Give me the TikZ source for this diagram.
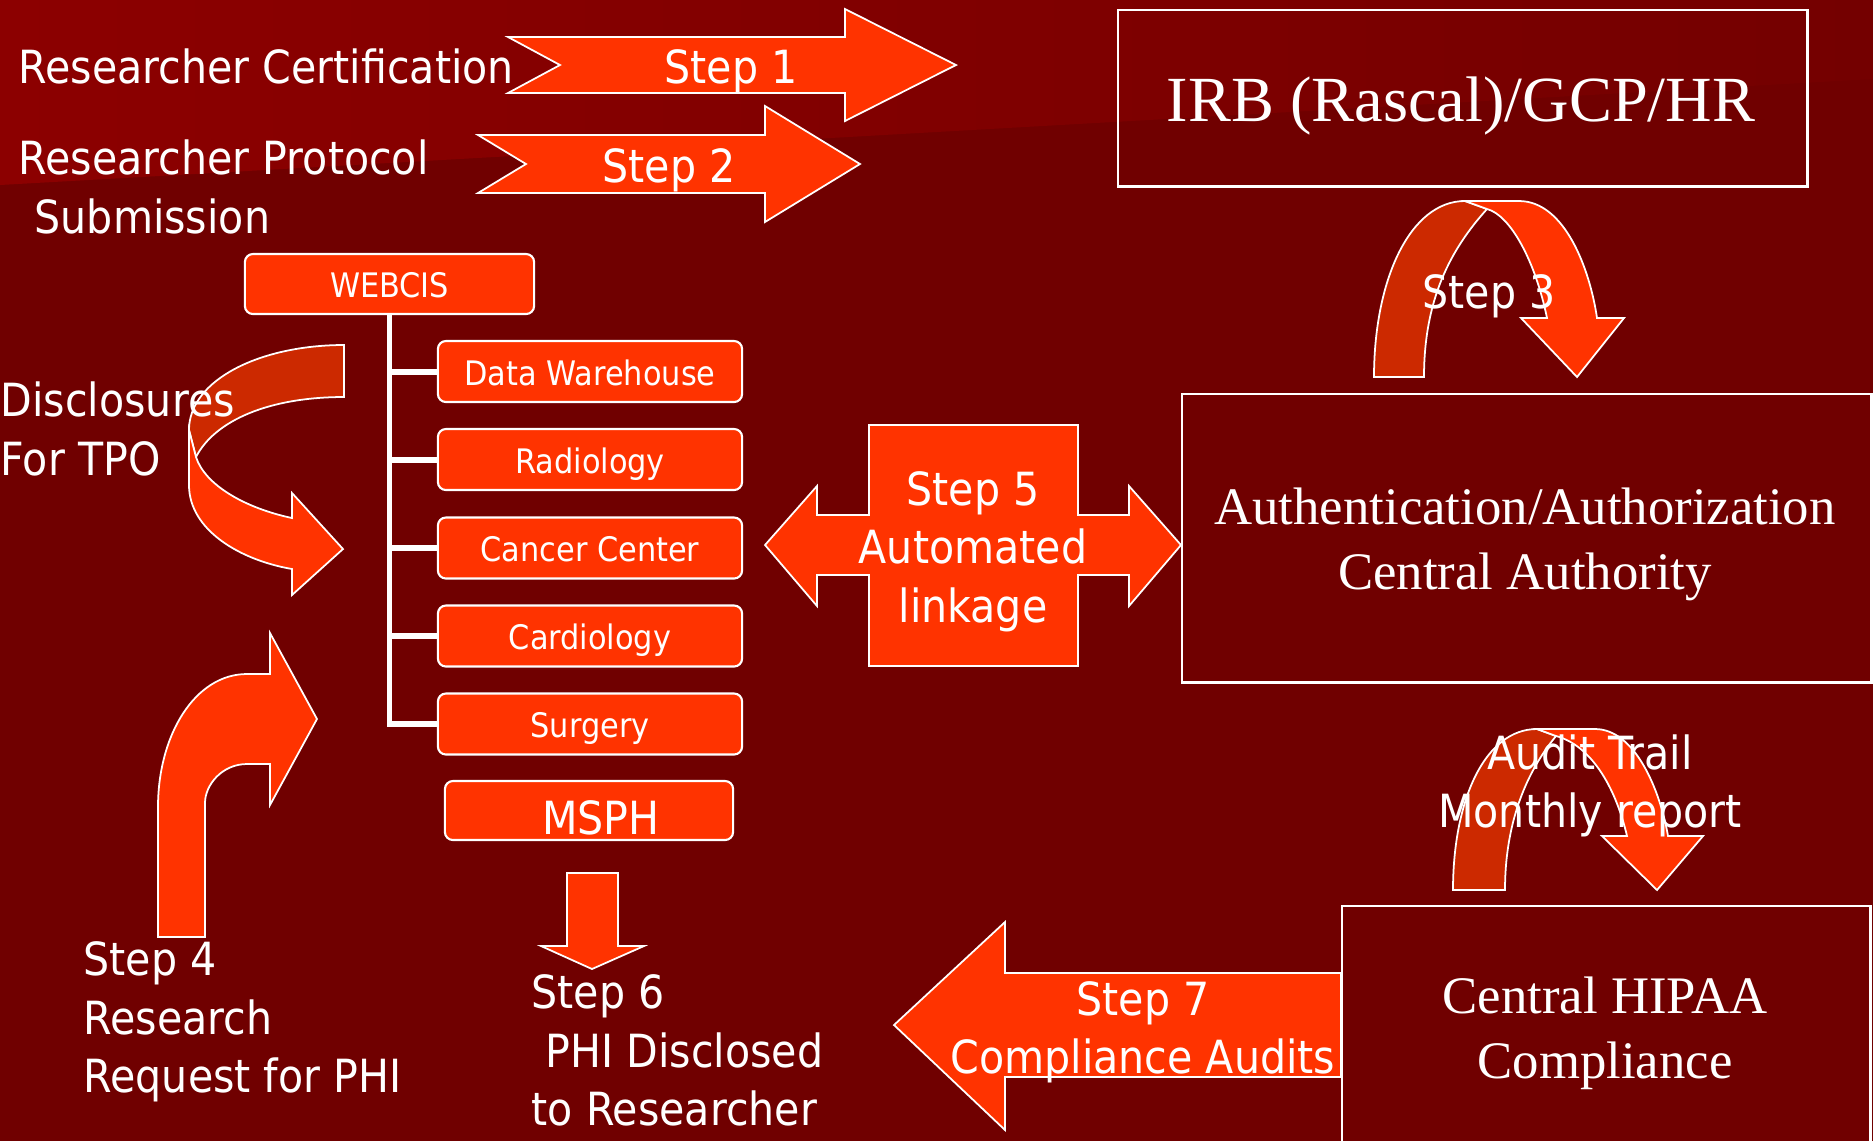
\documentclass[tikz,border=0pt]{standalone}
\usepackage{fontspec}
\usepackage{tikz}
\newfontfamily\tah{DejaVu Sans}[FakeStretch=0.9]
\newfontfamily\tms{Liberation Serif}
\definecolor{slidebg}{RGB}{112,0,0}
\definecolor{slidetop}{RGB}{140,0,0}
\definecolor{slidetopr}{RGB}{116,0,0}
\definecolor{steporange}{RGB}{255,51,0}
\definecolor{stepback}{RGB}{204,41,0}
\tikzset{
  frontpart/.style={fill=steporange, draw=white, line width=0.5pt},
  backpart/.style={fill=stepback, draw=white, line width=0.5pt},
  lbl/.style={text=white, inner sep=0pt, font=\tah\fontsize{13}{16.5}\selectfont},
  seriflbl/.style={text=white, inner sep=0pt, align=center, font=\tms\fontsize{15}{18.3}\selectfont},
  frame/.style={draw=white, line width=0.7pt, inner sep=0pt},
  dept/.style={draw=white, fill=steporange, line width=0.6pt, rounded corners=0.08cm,
    minimum width=3.04cm, minimum height=0.61cm, inner sep=0pt, text=white,
    text height=0.27cm, text depth=0cm, font=\tah\fontsize{9.6}{11}\selectfont},
  trunk/.style={draw=white, line width=1.7pt},
}
\begin{document}
\begin{tikzpicture}[x=0.01cm,y=-0.01cm]
\useasboundingbox (0,0) rectangle (1873,1141);
\fill[slidebg] (0,0) rectangle (1873,1141);
\shade[left color=slidetop, right color=slidetopr] (0,0) -- (1873,0) -- (1873,79) -- (0,185) -- cycle;

\filldraw[frontpart] (508,37) -- (845,37) -- (845,9) -- (956,65) -- (845,121) -- (845,93) -- (508,93) -- (560,65) -- cycle;
\filldraw[frontpart] (478,135) -- (765,135) -- (765,106) -- (860,164) -- (765,222) -- (765,193) -- (478,193) -- (526,164) -- cycle;
\node[lbl, anchor=base west] (cert) at (18,83) {Researcher Certification};
\node[lbl, anchor=base west, align=left] (protocol) at (18,233) {Researcher Protocol\\\hspace*{0.16cm}Submission};
\node[lbl, anchor=base] (stepone) at (731,83) {Step 1};
\node[lbl, anchor=base] (steptwo) at (669,182) {Step 2};

\node[frame, anchor=north west, minimum width=6.89cm, minimum height=1.76cm] (irb) at (1117,9) {};
\node[seriflbl, anchor=base, font=\tms\fontsize{18.3}{22}\selectfont] (irbtext) at (1461,121) {IRB (Rascal)/GCP/HR};

\filldraw[backpart] (1374,377) .. controls (1374,280) and (1410,201) .. (1465,201) -- (1487,209) .. controls (1450,250) and (1424,300) .. (1424,377) -- cycle;
\filldraw[frontpart] (1465,201) -- (1519,201) .. controls (1565,201) and (1590,270) .. (1597,318) -- (1624,318) -- (1577,377) -- (1521,318) -- (1547,318) .. controls (1535,260) and (1510,215) .. (1487,209) -- cycle;
\node[lbl, anchor=base] (stepthree) at (1489,308) {Step 3};

\node[frame, anchor=north west, minimum width=6.89cm, minimum height=2.88cm] (auth) at (1181,393) {};
\node[seriflbl, anchor=base] (authtext) at (1525,589) {Authentication/Authorization\\Central Authority};

\filldraw[frontpart] (765,545) -- (817,486) -- (817,515) -- (869,515) -- (869,425) -- (1078,425) -- (1078,515) -- (1129,515) -- (1129,486) -- (1181,545) -- (1129,606) -- (1129,575) -- (1078,575) -- (1078,666) -- (869,666) -- (869,575) -- (817,575) -- (817,606) -- cycle;
\node[lbl, anchor=base, align=center] (stepfive) at (973,622) {Step 5\\Automated\\linkage};

\filldraw[backpart] (344,345) .. controls (260,345) and (189,380) .. (189,430) -- (196,457) .. controls (215,420) and (270,397) .. (344,397) -- cycle;
\filldraw[frontpart] (189,430) -- (189,485) .. controls (189,530) and (240,560) .. (292,569) -- (292,595) -- (343,549) -- (292,493) -- (292,518) .. controls (245,508) and (205,485) .. (196,457) -- cycle;
\node[lbl, anchor=base west, align=left] (tpo) at (0,475) {Disclosures\\For TPO};

\node[dept, minimum width=2.89cm, minimum height=0.60cm] (webcis) at (389.5,284) {WEBCIS};
\node[dept] (dw) at (590,371.5) {Data Warehouse};
\node[dept] (rad) at (590,459.5) {Radiology};
\node[dept] (cancer) at (590,548) {Cancer Center};
\node[dept] (cardio) at (590,636) {Cardiology};
\node[dept] (surg) at (590,724) {Surgery};
\foreach \d in {dw,rad,cancer,cardio,surg}
  \draw[trunk] (webcis.south) |- (\d.west);
\node[dept, minimum width=2.88cm, minimum height=0.59cm] (msph) at (589,810.5) {};
\node[lbl, anchor=base] (msphtext) at (601,834) {MSPH};

\filldraw[frontpart] (158,937) -- (158,807) .. controls (158,735) and (195,674) .. (247,674) -- (270,674) -- (270,633) -- (317,719) -- (270,805) -- (270,764) -- (247,764) .. controls (222,764) and (205,785) .. (205,803) -- (205,937) -- cycle;
\node[lbl, anchor=base west, align=left] (stepfour) at (83,1092) {Step 4\\Research\\Request for PHI};

\filldraw[frontpart] (567,873) -- (618,873) -- (618,946) -- (644,946) -- (592,969) -- (541,946) -- (567,946) -- cycle;
\node[lbl, anchor=base west, align=left] (stepsix) at (531,1125) {Step 6\\\hspace*{0.14cm}PHI Disclosed\\to Researcher};

\filldraw[backpart] (1453,890) .. controls (1453,800) and (1485,729) .. (1537,729) -- (1556,736) .. controls (1528,770) and (1505,820) .. (1505,890) -- cycle;
\filldraw[frontpart] (1537,729) -- (1595,729) .. controls (1635,729) and (1660,790) .. (1668,836) -- (1703,836) -- (1657,890) -- (1602,836) -- (1627,836) .. controls (1615,785) and (1590,745) .. (1556,736) -- cycle;
\node[lbl, anchor=base, align=center] (audit) at (1590,827) {Audit Trail\\Monthly report};

\node[frame, anchor=north west, minimum width=5.28cm, minimum height=2.6cm] (hipaa) at (1341,905) {};
\node[seriflbl, anchor=base] (hipaatext) at (1605,1078) {Central HIPAA\\Compliance};

\filldraw[frontpart] (1341,973) -- (1005,973) -- (1005,922) -- (894,1025) -- (1005,1130) -- (1005,1077) -- (1341,1077) -- cycle;
\node[lbl, anchor=base, align=center] (stepseven) at (1143,1073) {Step 7\\Compliance Audits};
\end{tikzpicture}
\end{document}
